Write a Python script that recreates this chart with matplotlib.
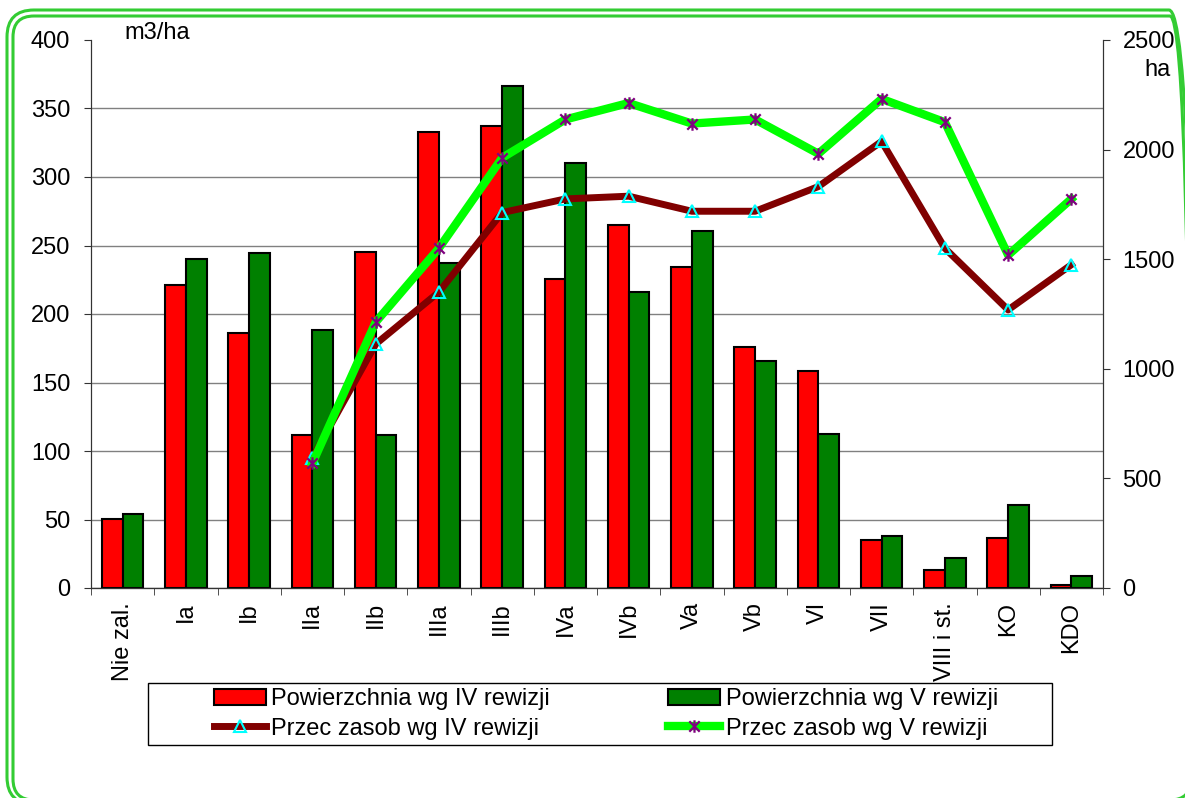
import numpy as np
import matplotlib
matplotlib.use('Agg')
from matplotlib import pyplot as plt
from matplotlib.patches import FancyBboxPatch, Rectangle
from matplotlib.path import Path

plt.rcParams['font.family'] = ['Liberation Sans', 'DejaVu Sans']
plt.rcParams['font.size'] = 17

# data
categories = ['Nie zal.', 'Ia', 'Ib', 'IIa', 'IIb', 'IIIa', 'IIIb', 'IVa', 'IVb',
              'Va', 'Vb', 'VI', 'VII', 'VIII i st.', 'KO', 'KDO']
area_iv = [315, 1382, 1163, 698, 1533, 2080, 2108, 1410, 1656, 1464, 1099, 990, 219, 82, 227, 15]
area_v = [337, 1501, 1528, 1177, 698, 1483, 2290, 1939, 1350, 1629, 1036, 703, 235, 135, 379, 56]
zasob_iv = [np.nan, np.nan, np.nan, 95, 178, 216, 274, 284, 286, 275, 275, 293, 326, 248, 203, 236]
zasob_v = [np.nan, np.nan, np.nan, 91, 194, 248, 314, 342, 354, 339, 342, 317, 357, 340, 243, 284]

W, H = 1185, 798
fig = plt.figure(figsize=(W / 100, H / 100), dpi=100)
ax = fig.add_axes([91 / W, 1 - 588 / H, (1103 - 91) / W, 548 / H])
ax_bar = ax.twinx()
ax_line = ax.twinx()

x = np.arange(len(categories))
bw = 0.33

# left axis: m3/ha with grid
ax.set_xlim(-0.5, len(categories) - 0.5)
ax.set_ylim(0, 400)
ax.set_yticks(range(0, 401, 50))
ax.yaxis.grid(True, color='#808080', lw=1)
ax.yaxis.get_major_ticks()[-1].gridline.set_visible(False)
ax.set_axisbelow(True)
ax.tick_params(axis='y', length=5, pad=10, color='#333333')
ax.set_xticks(x)
ax.set_xticklabels(categories, rotation=90)
ax.set_xticks(np.arange(-0.5, len(categories), 1), minor=True)
ax.tick_params(axis='x', which='major', length=0, pad=10)
ax.tick_params(axis='x', which='minor', length=5, color='#333333')

# bars on the right axis (ha)
b1 = ax_bar.bar(x - bw / 2, area_iv, bw, color='#ff0000', edgecolor='black', lw=1.5,
                label='Powierzchnia wg IV rewizji')
b2 = ax_bar.bar(x + bw / 2, area_v, bw, color='#008000', edgecolor='black', lw=1.5,
                label='Powierzchnia wg V rewizji')
ax_bar.set_ylim(0, 2500)
ax_bar.set_yticks(range(0, 2501, 500))
ax_bar.tick_params(axis='y', length=5, pad=9, color='#333333')

# Excel-like star marker: X with a vertical stroke
star = Path([(-1, -1), (1, 1), (-1, 1), (1, -1), (0, -1.2), (0, 1.2)],
            [Path.MOVETO, Path.LINETO, Path.MOVETO, Path.LINETO, Path.MOVETO, Path.LINETO])

# lines on the left scale, drawn on top
l1, = ax_line.plot(x, zasob_iv, color='#800000', lw=5, marker='^', ms=8, mfc='none',
                   mec='#00ffff', mew=1.5, label='Przec zasob wg IV rewizji')
l2, = ax_line.plot(x, zasob_v, color='#00ff00', lw=6, marker=star, ms=9,
                   mec='#800080', mew=1.6, label='Przec zasob wg V rewizji')
ax_line.set_ylim(ax.get_ylim())
ax_line.yaxis.set_visible(False)

for a in (ax, ax_bar, ax_line):
    a.spines['top'].set_visible(False)
    for s in a.spines.values():
        s.set_color('#333333')
ax_line.spines['left'].set_visible(False)
ax_line.spines['right'].set_visible(False)

fig.text(124 / W, 1 - 33 / H, 'm3/ha', ha='left', va='center')
fig.text(1158 / W, 1 - 70 / H, 'ha', ha='center', va='center')

# legend with its own frame
fig.add_artist(Rectangle((148, H - 745), 904, 62, transform=None, fill=False,
                         ec='black', lw=1))
fig.legend([b1, l1, b2, l2],
           [b1.get_label(), l1.get_label(), b2.get_label(), l2.get_label()],
           ncol=2, loc='center', bbox_to_anchor=(606 / W, 1 - 714 / H),
           frameon=False, handlelength=2.2, handletextpad=0.25,
           columnspacing=5, labelspacing=0.3, borderpad=0)

# double green rounded border (right and bottom run off the image)
for x0, y0, x1, y1, r in [(7, 10, 1196, 804, 27), (13, 16, 1191, 800, 21)]:
    fig.add_artist(FancyBboxPatch((x0, H - y1), x1 - x0, y1 - y0,
                                  boxstyle='round,pad=0,rounding_size=%d' % r,
                                  transform=None, fill=False, ec='#33cc33', lw=2.2))

fig.savefig('out.png', dpi=100)
